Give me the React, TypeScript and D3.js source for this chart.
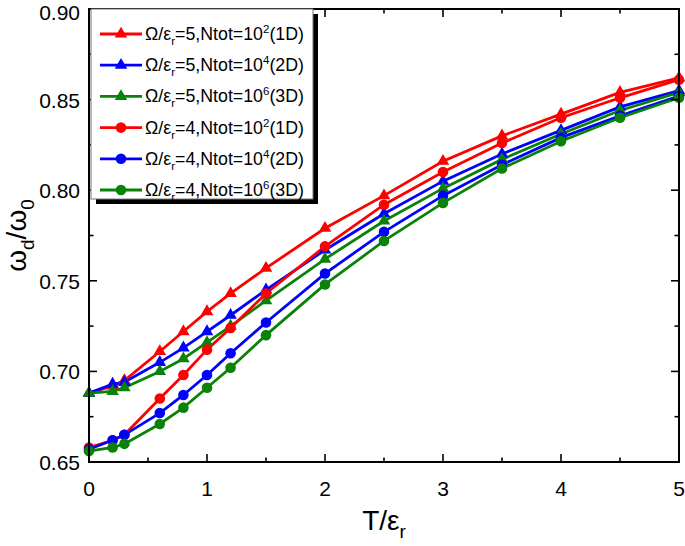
import React, { useEffect } from "react";
import * as d3 from "d3";

const xValues = [0, 0.2, 0.3, 0.6, 0.8, 1.0, 1.2, 1.5, 2, 2.5, 3, 3.5, 4, 4.5, 5];

const redTri = [0.688, 0.692, 0.695, 0.711, 0.722, 0.733, 0.743, 0.757, 0.779, 0.797, 0.816, 0.830, 0.842, 0.854, 0.862];
const blueTri = [0.688, 0.693, 0.694, 0.705, 0.713, 0.722, 0.731, 0.745, 0.767, 0.787, 0.805, 0.820, 0.833, 0.846, 0.855];
const greenTri = [0.688, 0.689, 0.691, 0.700, 0.707, 0.716, 0.725, 0.739, 0.762, 0.783, 0.801, 0.817, 0.831, 0.844, 0.854];
const redCirc = [0.658, 0.662, 0.665, 0.685, 0.698, 0.712, 0.724, 0.743, 0.769, 0.792, 0.810, 0.826, 0.840, 0.851, 0.861];
const blueCirc = [0.657, 0.662, 0.665, 0.677, 0.687, 0.698, 0.710, 0.727, 0.754, 0.777, 0.797, 0.814, 0.829, 0.841, 0.852];
const greenCirc = [0.656, 0.658, 0.660, 0.671, 0.680, 0.691, 0.702, 0.720, 0.748, 0.772, 0.793, 0.812, 0.827, 0.840, 0.851];

const xTicks = [0, 1, 2, 3, 4, 5];
const xMinor = [0.5, 1.5, 2.5, 3.5, 4.5];
const yTicks = [0.65, 0.7, 0.75, 0.8, 0.85, 0.9];
const yMinor = [0.675, 0.725, 0.775, 0.825, 0.875];

const omegaVals = ["5", "5", "5", "4", "4", "4"];
const nExps = ["2", "4", "6", "2", "4", "6"];
const dims = ["1D", "2D", "3D", "1D", "2D", "3D"];

const RED = "#ff0000";
const BLUE = "#0000ff";
const GREEN = "#0a820a";

const series = [
  { values: redTri, color: RED, shape: "tri" },
  { values: blueTri, color: BLUE, shape: "tri" },
  { values: greenTri, color: GREEN, shape: "tri" },
  { values: redCirc, color: RED, shape: "circ" },
  { values: blueCirc, color: BLUE, shape: "circ" },
  { values: greenCirc, color: GREEN, shape: "circ" },
];

const FONT = "'Liberation Sans', Arial, Helvetica, sans-serif";

export default function App() {
  useEffect(() => {
    document.body.style.margin = "0";
  }, []);

  const W = 685;
  const H = 546;
  const left = 89;
  const right = 679;
  const top = 9;
  const bottom = 462;

  const x = d3.scaleLinear().domain([0, 5]).range([left, right]);
  const y = d3.scaleLinear().domain([0.65, 0.9]).range([bottom, top]);

  const line = d3
    .line<number>()
    .x((_, i) => x(xValues[i]))
    .y((v) => y(v));

  const triPath = d3.symbol().type(d3.symbolTriangle).size(68)()!;
  const circPath = d3.symbol().type(d3.symbolCircle).size(88)()!;

  const marker = (shape: string, color: string, cx: number, cy: number, key: string) => (
    <path
      key={key}
      d={shape === "tri" ? triPath : circPath}
      transform={`translate(${cx},${cy})`}
      fill={color}
    />
  );

  const majorLen = 8;
  const minorLen = 4.5;

  const lgX = 91;
  const lgY = 9;
  const lgW = 222;
  const lgH = 190;
  const rowY0 = 34;
  const rowStep = 31.2;

  return (
    <svg width={W} height={H} style={{ display: "block", background: "#fff" }} fontFamily={FONT}>
      {series.map((s, si) => (
        <path key={`l${si}`} d={line(s.values)!} fill="none" stroke={s.color} strokeWidth={2.8} />
      ))}
      {series.map((s, si) =>
        s.values.map((v, i) => marker(s.shape, s.color, x(xValues[i]), y(v), `m${si}-${i}`))
      )}

      <rect x={left} y={top} width={right - left} height={bottom - top} fill="none" stroke="#000" strokeWidth={2} />

      {xTicks.map((t) => (
        <g key={`xt${t}`}>
          <line x1={x(t)} x2={x(t)} y1={bottom} y2={bottom - majorLen} stroke="#000" strokeWidth={1.6} />
          <line x1={x(t)} x2={x(t)} y1={top} y2={top + majorLen} stroke="#000" strokeWidth={1.6} />
          <text x={x(t)} y={496} fontSize={21} textAnchor="middle" fill="#000">
            {t}
          </text>
        </g>
      ))}
      {xMinor.map((t) => (
        <g key={`xm${t}`}>
          <line x1={x(t)} x2={x(t)} y1={bottom} y2={bottom - minorLen} stroke="#000" strokeWidth={1.6} />
          <line x1={x(t)} x2={x(t)} y1={top} y2={top + minorLen} stroke="#000" strokeWidth={1.6} />
        </g>
      ))}
      {yTicks.map((t) => (
        <g key={`yt${t}`}>
          <line x1={left} x2={left + majorLen} y1={y(t)} y2={y(t)} stroke="#000" strokeWidth={1.6} />
          <line x1={right} x2={right - majorLen} y1={y(t)} y2={y(t)} stroke="#000" strokeWidth={1.6} />
          <text x={80} y={Math.max(y(t) + 8, 20)} fontSize={21} textAnchor="end" fill="#000">
            {t.toFixed(2)}
          </text>
        </g>
      ))}
      {yMinor.map((t) => (
        <g key={`ym${t}`}>
          <line x1={left} x2={left + minorLen} y1={y(t)} y2={y(t)} stroke="#000" strokeWidth={1.6} />
          <line x1={right} x2={right - minorLen} y1={y(t)} y2={y(t)} stroke="#000" strokeWidth={1.6} />
        </g>
      ))}

      <text x={(left + right) / 2} y={530} fontSize={28} textAnchor="middle" fill="#000">
        T/ε<tspan fontSize={19} dy={8}>r</tspan>
      </text>
      <text
        transform={`translate(26,${(top + bottom) / 2}) rotate(-90)`}
        fontSize={28}
        textAnchor="middle"
        fill="#000"
      >
        ω<tspan fontSize={19} dy={8}>d</tspan>
        <tspan dy={-8}>/ω</tspan>
        <tspan fontSize={19} dy={8}>0</tspan>
      </text>

      <rect x={lgX + 5} y={lgY + 5} width={lgW} height={lgH} fill="#000" />
      <rect x={lgX} y={lgY} width={lgW} height={lgH} fill="#fff" stroke="#777" strokeWidth={1} />
      {series.map((s, i) => {
        const ry = rowY0 + i * rowStep;
        return (
          <g key={`lg${i}`}>
            <line x1={100} x2={142} y1={ry} y2={ry} stroke={s.color} strokeWidth={2.8} />
            {marker(s.shape, s.color, 121, ry, `lgm${i}`)}
            <text x={145} y={ry + 6} fontSize={17.8} fill="#000">
              Ω/ε<tspan fontSize={11.5} dy={5}>r</tspan>
              <tspan dy={-5}>={omegaVals[i]},Ntot=10</tspan>
              <tspan fontSize={11.5} dy={-7}>{nExps[i]}</tspan>
              <tspan dy={7}>({dims[i]})</tspan>
            </text>
          </g>
        );
      })}
    </svg>
  );
}
